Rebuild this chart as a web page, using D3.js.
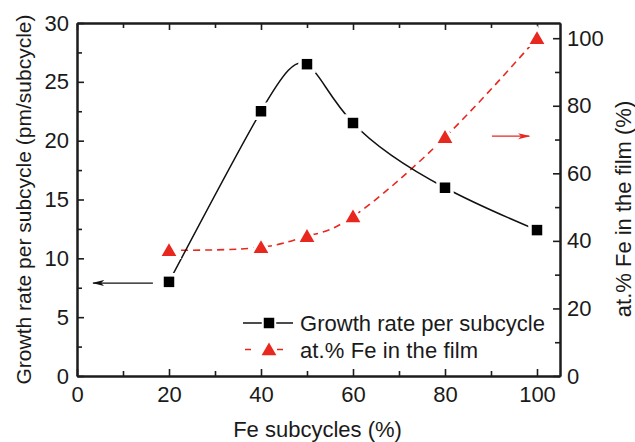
<!DOCTYPE html>
<html>
<head>
<meta charset="utf-8">
<script src="https://cdn.jsdelivr.net/npm/d3@7"></script>
<style>
  html, body { margin: 0; padding: 0; background: #fff; }
  svg { display: block; font-family: "Liberation Sans", Arial, Helvetica, sans-serif; }
</style>
</head>
<body>
<svg id="chart" width="635" height="442"></svg>
<script>
// Fe subcycle fraction (%) for each deposition recipe
const feSubcycles = [20, 40, 50, 60, 80, 100];
// Growth rate per subcycle (pm/subcycle), left axis
const growthRate = [8.0, 22.5, 26.5, 21.5, 16.0, 12.4];
// Fe content in the film (at.%), right axis
const feContent = [37.2, 38.1, 41.4, 47.2, 70.7, 100];

const xTicks = [0, 20, 40, 60, 80, 100];
const leftTicks = [0, 5, 10, 15, 20, 25, 30];
const rightTicks = [0, 20, 40, 60, 80, 100];

// Arrows pointing each series to its axis: [x0, x1, y] in data units
const leftArrow = [16.5, 3.5, 7.9];
const rightArrow = [90.2, 98.3, 71];

const seriesNames = ["Growth rate per subcycle", "at.% Fe in the film"];

const RED = "#e8271f";
const AXIS = "#1c1c1c";
const FONT = "'Liberation Sans', Arial, sans-serif";

const svg = d3.select("#chart");
const L = 77, R = 560, T = 23, B = 376;

const x = d3.scaleLinear().domain([0, 105]).range([L, R]);
const yL = d3.scaleLinear().domain([0, 30]).range([B, T]);
const yR = d3.scaleLinear().domain([0, 104.5]).range([B, T]);

const defs = svg.append("defs");
function arrowMarker(id, color) {
  defs.append("marker")
    .attr("id", id)
    .attr("viewBox", "0 0 12 8")
    .attr("refX", 11).attr("refY", 4)
    .attr("markerWidth", 12).attr("markerHeight", 8)
    .attr("markerUnits", "userSpaceOnUse")
    .attr("orient", "auto")
    .append("path")
    .attr("d", "M0,1 L12,4 L0,7 L3,4 Z")
    .attr("fill", color);
}
arrowMarker("arrowBlack", "#111");
arrowMarker("arrowRed", RED);

// ---- axes ----
function styleAxis(g) {
  g.selectAll(".domain").attr("stroke", AXIS).attr("stroke-width", 2);
  g.selectAll(".tick line").attr("stroke", AXIS).attr("stroke-width", 1.6);
  g.selectAll("text").attr("fill", "#1a1a1a").attr("font-size", 22).attr("font-family", FONT);
}
const minorX = d3.range(10, 101, 20);
const minorL = d3.range(2.5, 30, 5);
const minorR = d3.range(10, 101, 20);

// bottom
svg.append("g").attr("transform", `translate(0,${B})`)
  .call(d3.axisBottom(x).tickValues(minorX).tickSize(-5).tickSizeOuter(0).tickFormat(""))
  .call(styleAxis);
svg.append("g").attr("transform", `translate(0,${B})`)
  .call(d3.axisBottom(x).tickValues(xTicks).tickSize(-7).tickSizeOuter(0).tickPadding(10).tickFormat(d3.format("d")))
  .call(styleAxis);
// top
svg.append("g").attr("transform", `translate(0,${T})`)
  .call(d3.axisTop(x).tickValues(minorX).tickSize(-5).tickSizeOuter(0).tickFormat(""))
  .call(styleAxis);
svg.append("g").attr("transform", `translate(0,${T})`)
  .call(d3.axisTop(x).tickValues(xTicks).tickSize(-7).tickSizeOuter(0).tickFormat(""))
  .call(styleAxis);
// left
svg.append("g").attr("transform", `translate(${L},0)`)
  .call(d3.axisLeft(yL).tickValues(minorL).tickSize(-5).tickSizeOuter(0).tickFormat(""))
  .call(styleAxis);
svg.append("g").attr("transform", `translate(${L},0)`)
  .call(d3.axisLeft(yL).tickValues(leftTicks).tickSize(-7).tickSizeOuter(0).tickPadding(8).tickFormat(d3.format("d")))
  .call(styleAxis);
// right
svg.append("g").attr("transform", `translate(${R},0)`)
  .call(d3.axisRight(yR).tickValues(minorR).tickSize(-5).tickSizeOuter(0).tickFormat(""))
  .call(styleAxis);
svg.append("g").attr("transform", `translate(${R},0)`)
  .call(d3.axisRight(yR).tickValues(rightTicks).tickSize(-7).tickSizeOuter(0).tickPadding(7).tickFormat(d3.format("d")))
  .call(styleAxis);

// axis titles
svg.append("text")
  .attr("x", (L + R) / 2 - 1).attr("y", 437)
  .attr("text-anchor", "middle").attr("font-size", 22).attr("fill", "#1a1a1a")
  .text("Fe subcycles (%)");
svg.append("text")
  .attr("transform", `translate(31,${(T + B) / 2}) rotate(-90)`)
  .attr("text-anchor", "middle").attr("font-size", 21).attr("fill", "#1a1a1a")
  .text("Growth rate per subcycle (pm/subcycle)");
svg.append("text")
  .attr("transform", `translate(631,209) rotate(-90)`)
  .attr("text-anchor", "middle").attr("font-size", 22).attr("fill", "#1a1a1a")
  .text("at.% Fe in the film (%)");

// ---- series ----
const growthPts = feSubcycles.map((v, i) => [v, growthRate[i]]);
const fePts = feSubcycles.map((v, i) => [v, feContent[i]]);

svg.append("path")
  .datum(fePts)
  .attr("fill", "none").attr("stroke", RED).attr("stroke-width", 1.6)
  .attr("stroke-dasharray", "7,5")
  .attr("d", d3.line().x(d => x(d[0])).y(d => yR(d[1])).curve(d3.curveNatural));

svg.append("path")
  .datum(growthPts)
  .attr("fill", "none").attr("stroke", "#111").attr("stroke-width", 1.5)
  .attr("d", d3.line().x(d => x(d[0])).y(d => yL(d[1])).curve(d3.curveNatural));

const sq = d3.symbol().type(d3.symbolSquare).size(110);
const tri = d3.symbol().type(d3.symbolTriangle).size(95);

// symbols sit on a white halo so lines stop short of them
svg.append("g").selectAll("path").data(fePts).join("path")
  .attr("transform", d => `translate(${x(d[0])},${yR(d[1]) + 1.5})`)
  .attr("d", tri).attr("fill", RED)
  .attr("stroke", "#fff").attr("stroke-width", 6).attr("paint-order", "stroke");

svg.append("g").selectAll("path").data(growthPts).join("path")
  .attr("transform", d => `translate(${x(d[0])},${yL(d[1])})`)
  .attr("d", sq).attr("fill", "#000")
  .attr("stroke", "#fff").attr("stroke-width", 7).attr("paint-order", "stroke");

// ---- arrows ----
svg.append("line")
  .attr("x1", x(leftArrow[0])).attr("x2", x(leftArrow[1]))
  .attr("y1", yL(leftArrow[2])).attr("y2", yL(leftArrow[2]))
  .attr("stroke", "#111").attr("stroke-width", 1.2)
  .attr("marker-end", "url(#arrowBlack)");
svg.append("line")
  .attr("x1", x(rightArrow[0])).attr("x2", x(rightArrow[1]))
  .attr("y1", yR(rightArrow[2])).attr("y2", yR(rightArrow[2]))
  .attr("stroke", RED).attr("stroke-width", 1.2)
  .attr("marker-end", "url(#arrowRed)");

// ---- legend ----
const legend = svg.append("g").attr("transform", "translate(243,323)");
const rowH = 26.5;
// row 1: solid line with square
legend.append("line").attr("x1", 0).attr("x2", 50).attr("y1", 0).attr("y2", 0)
  .attr("stroke", "#111").attr("stroke-width", 1.5);
legend.append("path").attr("transform", "translate(26,0)").attr("d", sq)
  .attr("fill", "#000").attr("stroke", "#fff").attr("stroke-width", 4).attr("paint-order", "stroke");
legend.append("text").attr("x", 57).attr("y", 8).attr("font-size", 22).attr("fill", "#1a1a1a")
  .attr("textLength", 245).attr("lengthAdjust", "spacing")
  .text(seriesNames[0]);
// row 2: dashed line with triangle
legend.append("line").attr("x1", 2).attr("x2", 40).attr("y1", rowH).attr("y2", rowH)
  .attr("stroke", RED).attr("stroke-width", 1.5).attr("stroke-dasharray", "6,26");
legend.append("path").attr("transform", `translate(26,${rowH + 1.5})`).attr("d", tri)
  .attr("fill", RED);
legend.append("text").attr("x", 57).attr("y", rowH + 8).attr("font-size", 22).attr("fill", "#1a1a1a")
  .attr("textLength", 178).attr("lengthAdjust", "spacing")
  .text(seriesNames[1]);
</script>
</body>
</html>
